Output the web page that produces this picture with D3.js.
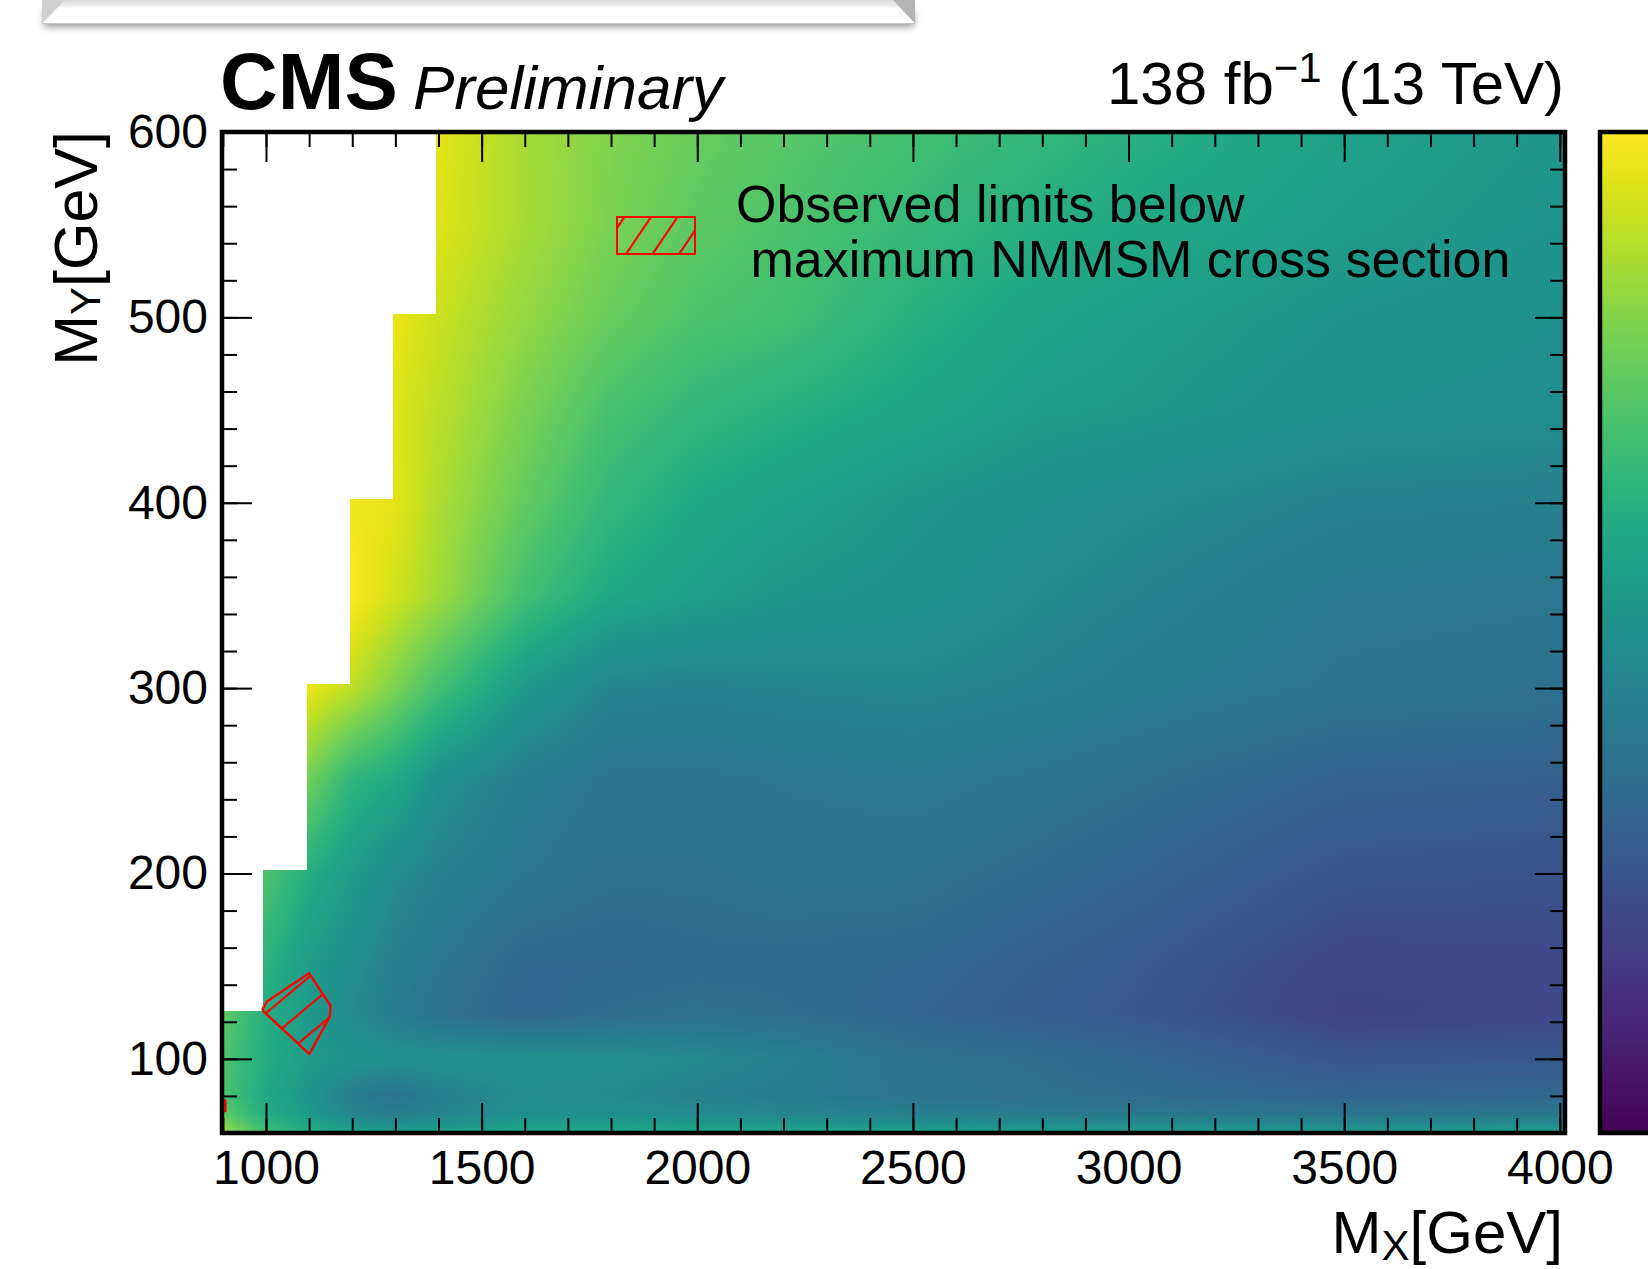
<!DOCTYPE html>
<html>
<head>
<meta charset="utf-8">
<script src="https://cdn.jsdelivr.net/npm/d3@7"></script>
<style>
  body { margin: 0; background: #fff; }
  svg text { font-family: "Liberation Sans", Arial, Helvetica, sans-serif; }
</style>
</head>
<body>
<svg id="chart" width="1648" height="1269"></svg>
<script>
// mass points of the limit scan (GeV)
var mxPoints = [900, 1000, 1100, 1200, 1300, 1400, 1600, 1800, 2000, 2200, 2500, 2800, 3000, 3500, 4000];
var myPoints = [60, 70, 80, 100, 125, 150, 200, 250, 300, 350, 400, 450, 500, 550, 600];
// colour value (fraction of the palette range) at each (MY row, MX column)
var zRows = [
  [0.85, 0.70, 0.62, 0.58, 0.56, 0.57, 0.60, 0.60, 0.60, 0.60, 0.58, 0.56, 0.55, 0.55, 0.56],
  [0.76, 0.62, 0.54, 0.46, 0.42, 0.45, 0.50, 0.50, 0.48, 0.46, 0.43, 0.41, 0.40, 0.38, 0.40],
  [0.72, 0.60, 0.52, 0.42, 0.38, 0.43, 0.48, 0.47, 0.44, 0.42, 0.38, 0.36, 0.35, 0.32, 0.33],
  [0.72, 0.62, 0.55, 0.52, 0.50, 0.50, 0.50, 0.49, 0.47, 0.44, 0.37, 0.35, 0.33, 0.26, 0.27],
  [0.76, 0.62, 0.54, 0.47, 0.42, 0.37, 0.32, 0.35, 0.36, 0.35, 0.32, 0.29, 0.27, 0.20, 0.21],
  [0.74, 0.64, 0.55, 0.49, 0.43, 0.39, 0.33, 0.33, 0.34, 0.34, 0.33, 0.30, 0.28, 0.21, 0.22],
  [0.72, 0.72, 0.62, 0.55, 0.48, 0.44, 0.39, 0.36, 0.36, 0.37, 0.37, 0.34, 0.32, 0.26, 0.25],
  [0.80, 0.80, 0.78, 0.65, 0.60, 0.50, 0.42, 0.38, 0.38, 0.39, 0.40, 0.38, 0.36, 0.31, 0.30],
  [0.97, 0.97, 0.97, 0.90, 0.80, 0.70, 0.54, 0.45, 0.44, 0.45, 0.46, 0.44, 0.42, 0.38, 0.37],
  [1.00, 1.00, 1.00, 1.00, 0.93, 0.86, 0.70, 0.60, 0.56, 0.53, 0.51, 0.47, 0.45, 0.40, 0.39],
  [0.98, 0.98, 0.98, 0.98, 0.96, 0.88, 0.76, 0.66, 0.60, 0.57, 0.53, 0.50, 0.48, 0.44, 0.43],
  [0.97, 0.97, 0.97, 0.97, 0.95, 0.90, 0.80, 0.71, 0.66, 0.63, 0.59, 0.55, 0.54, 0.50, 0.49],
  [0.97, 0.97, 0.97, 0.97, 0.97, 0.92, 0.84, 0.77, 0.72, 0.70, 0.63, 0.58, 0.56, 0.52, 0.50],
  [0.97, 0.97, 0.97, 0.97, 0.97, 0.95, 0.87, 0.80, 0.75, 0.72, 0.67, 0.62, 0.60, 0.55, 0.52],
  [0.97, 0.97, 0.97, 0.97, 0.97, 0.96, 0.87, 0.81, 0.77, 0.74, 0.70, 0.66, 0.63, 0.57, 0.53]
];
// kinematic edge: columns start at these MX and are filled up to stepTopMY
var stepEdgesMX = [898, 994, 1094, 1194, 1294, 1394];
var stepTopMY   = [126, 202, 302, 402, 502, 600];
// observed-excluded region (hatched)
var obsContour = [[992, 126.7], [1001.6, 130.8], [1099.7, 146.2], [1150, 128.5], [1148, 122.7], [1100.4, 102.6], [995.4, 125.4]];
var obsContourEdge = [[893, 71.5], [906, 71.8], [906, 77.6], [893, 78]];
// ticks
var xMajorTicks = [1000, 1500, 2000, 2500, 3000, 3500, 4000];
var yMajorTicks = [100, 200, 300, 400, 500, 600];
var legendLines = ["Observed limits below", " maximum NMMSM cross section"];

var svg = d3.select("#chart");
var x = d3.scaleLinear().domain([898, 4012]).range([222, 1565]);
var y = d3.scaleLinear().domain([60, 600]).range([1133, 132]);
var color = d3.interpolateViridis;
var xMinorTicks = d3.range(900, 4001, 100);
var yMinorTicks = d3.range(60, 601, 20);

var defs = svg.append("defs");
defs.append("clipPath").attr("id", "plotClip").append("rect")
    .attr("x", x.range()[0]).attr("y", y.range()[1])
    .attr("width", x.range()[1] - x.range()[0]).attr("height", y.range()[0] - y.range()[1]);

function hatch(id, angle) {
  var p = defs.append("pattern").attr("id", id).attr("patternUnits", "userSpaceOnUse")
      .attr("width", 22).attr("height", 22)
      .attr("patternTransform", "rotate(" + angle + ")");
  p.append("line").attr("x1", 1).attr("y1", -2).attr("x2", 1).attr("y2", 24)
      .attr("stroke", "#f00").attr("stroke-width", 2.2);
}
hatch("hatchPlot", 50);
hatch("hatchLegend", 34);

var shadow = defs.append("filter").attr("id", "shadow").attr("x", "-5%").attr("y", "-50%").attr("width", "110%").attr("height", "250%");
shadow.append("feGaussianBlur").attr("stdDeviation", 3.5);

var topGrad = defs.append("linearGradient").attr("id", "topGrad").attr("x1", 0).attr("y1", 0).attr("x2", 0).attr("y2", 1);
topGrad.append("stop").attr("offset", "0%").attr("stop-color", "#d4d4d4");
topGrad.append("stop").attr("offset", "35%").attr("stop-color", "#f2f2f2");
topGrad.append("stop").attr("offset", "40%").attr("stop-color", "#ffffff");
topGrad.append("stop").attr("offset", "100%").attr("stop-color", "#ffffff");

// ---- grey box at the top (cut-off window edge)
svg.append("rect").attr("x", 44).attr("y", 10).attr("width", 870).attr("height", 17)
   .attr("fill", "#9a9a9a").attr("filter", "url(#shadow)");
svg.append("rect").attr("x", 42).attr("y", -2).attr("width", 873).attr("height", 25.5)
   .attr("fill", "url(#topGrad)");
svg.append("polygon").attr("points", "42,0 65,0 42,23.5").attr("fill", "#cfcfcf");
svg.append("polygon").attr("points", "893,0 915,0 915,23.5").attr("fill", "#b4b4b4");
svg.append("line").attr("x1", 42).attr("x2", 915).attr("y1", 23.5).attr("y2", 23.5)
   .attr("stroke", "#c4c4c4").attr("stroke-width", 1.2);

// ---- heat map (bilinear between the mass points, masked by the kinematic edge)
var x0 = x.range()[0], x1 = x.range()[1], y0 = y.range()[1], y1 = y.range()[0];
var W = x1 - x0, H = y1 - y0;
var canvas = document.createElement("canvas");
canvas.width = W; canvas.height = H;
var ctx = canvas.getContext("2d");
var img = ctx.createImageData(W, H);
var lut = d3.range(256).map(function(i) { return d3.rgb(color(i / 255)); });

function cellOf(arr, v) {
  var i = d3.bisectRight(arr, v) - 1;
  if (i < 0) i = 0;
  if (i > arr.length - 2) i = arr.length - 2;
  var t = (v - arr[i]) / (arr[i + 1] - arr[i]);
  return [i, Math.max(0, Math.min(1, t))];
}
var colInfo = [];
for (var px = 0; px < W; px++) {
  var xd = x.invert(x0 + px + 0.5);
  var c = cellOf(mxPoints, xd);
  var s = d3.bisectRight(stepEdgesMX, xd) - 1;
  colInfo.push({ i: c[0], t: c[1], top: stepTopMY[Math.max(0, s)] });
}
for (var py = 0; py < H; py++) {
  var yd = y.invert(y0 + py + 0.5);
  var r = cellOf(myPoints, yd), j = r[0], ty = r[1];
  var rowA = zRows[j], rowB = zRows[j + 1];
  for (var px2 = 0; px2 < W; px2++) {
    var ci = colInfo[px2], k = (py * W + px2) * 4;
    if (yd > ci.top) {
      img.data[k] = 255; img.data[k + 1] = 255; img.data[k + 2] = 255; img.data[k + 3] = 255;
      continue;
    }
    var i = ci.i, tx = ci.t;
    var za = rowA[i] * (1 - tx) + rowA[i + 1] * tx;
    var zb = rowB[i] * (1 - tx) + rowB[i + 1] * tx;
    var z = za * (1 - ty) + zb * ty;
    var col = lut[Math.round(Math.max(0, Math.min(1, z)) * 255)];
    img.data[k] = col.r; img.data[k + 1] = col.g; img.data[k + 2] = col.b; img.data[k + 3] = 255;
  }
}
ctx.putImageData(img, 0, 0);
svg.append("image").attr("x", x0).attr("y", y0).attr("width", W).attr("height", H)
   .attr("preserveAspectRatio", "none").attr("href", canvas.toDataURL());

// ---- observed exclusion contours
var line = d3.line().x(function(d) { return x(d[0]); }).y(function(d) { return y(d[1]); })
    .curve(d3.curveLinearClosed);
var contours = svg.append("g").attr("clip-path", "url(#plotClip)");
[obsContour, obsContourEdge].forEach(function(poly) {
  contours.append("path").attr("d", line(poly))
      .attr("fill", "url(#hatchPlot)").attr("stroke", "#f00").attr("stroke-width", 2.4)
      .attr("stroke-linejoin", "round");
});

// ---- axes (ROOT style, ticks on all four sides pointing inwards)
function drawAxis(axis, tx, ty) {
  var g = svg.append("g").attr("transform", "translate(" + tx + "," + ty + ")").call(axis)
      .attr("font-family", "'Liberation Sans', Arial, sans-serif").attr("font-size", 48);
  g.select(".domain").remove();
  g.selectAll(".tick line").attr("stroke", "#000").attr("stroke-width", 2);
  g.selectAll(".tick text").attr("fill", "#000");
  return g;
}
drawAxis(d3.axisBottom(x).tickValues(xMinorTicks).tickSize(-15).tickFormat(""), 0, y1);
drawAxis(d3.axisBottom(x).tickValues(xMajorTicks).tickSize(-30).tickPadding(17).tickFormat(d3.format("d")), 0, y1);
drawAxis(d3.axisTop(x).tickValues(xMinorTicks).tickSize(-15).tickFormat(""), 0, y0);
drawAxis(d3.axisTop(x).tickValues(xMajorTicks).tickSize(-30).tickFormat(""), 0, y0);
drawAxis(d3.axisLeft(y).tickValues(yMinorTicks).tickSize(-15).tickFormat(""), x0, 0);
drawAxis(d3.axisLeft(y).tickValues(yMajorTicks).tickSize(-30).tickPadding(14).tickFormat(d3.format("d")), x0, 0);
drawAxis(d3.axisRight(y).tickValues(yMinorTicks).tickSize(-15).tickFormat(""), x1, 0);
drawAxis(d3.axisRight(y).tickValues(yMajorTicks).tickSize(-30).tickFormat(""), x1, 0);

svg.append("rect").attr("x", x0).attr("y", y0).attr("width", W).attr("height", H)
   .attr("fill", "none").attr("stroke", "#000").attr("stroke-width", 4.5);

// ---- colour bar (cut at the page edge)
var cbGrad = defs.append("linearGradient").attr("id", "cbGrad").attr("x1", 0).attr("y1", 1).attr("x2", 0).attr("y2", 0);
d3.range(0, 1.0001, 0.05).forEach(function(t) {
  cbGrad.append("stop").attr("offset", (t * 100) + "%").attr("stop-color", color(t));
});
svg.append("rect").attr("x", 1600).attr("y", y0).attr("width", 80).attr("height", H)
   .attr("fill", "url(#cbGrad)").attr("stroke", "#000").attr("stroke-width", 4.5);

// ---- legend
svg.append("rect").attr("x", 617).attr("y", 217).attr("width", 78).attr("height", 37)
   .attr("fill", "url(#hatchLegend)").attr("stroke", "#f00").attr("stroke-width", 2);
var leg = svg.append("text").attr("font-size", 52).attr("fill", "#000").style("white-space", "pre");
leg.selectAll("tspan").data(legendLines).enter().append("tspan")
   .attr("x", 736).attr("y", function(d, i) { return 222 + i * 55; })
   .text(function(d) { return d; });

// ---- titles
svg.append("text").attr("x", 220).attr("y", 109).attr("font-size", 80).attr("font-weight", "bold")
   .text("CMS");
svg.append("text").attr("x", 413).attr("y", 109).attr("font-size", 62).attr("font-style", "italic")
   .text("Preliminary");
var lumi = svg.append("text").attr("x", 1564).attr("y", 104).attr("font-size", 60).attr("text-anchor", "end");
lumi.append("tspan").text("138 fb");
lumi.append("tspan").attr("font-size", 42).attr("dy", -22).text("\u22121");
lumi.append("tspan").attr("dy", 22).text(" (13 TeV)");

var xl = svg.append("text").attr("x", 1563).attr("y", 1253).attr("font-size", 60).attr("text-anchor", "end");
xl.append("tspan").text("M");
xl.append("tspan").attr("font-size", 42).attr("dy", 7).text("X");
xl.append("tspan").attr("dy", -7).text("[GeV]");

var yl = svg.append("text").attr("transform", "translate(97,131) rotate(-90)").attr("font-size", 61)
   .attr("text-anchor", "end");
yl.append("tspan").text("M");
yl.append("tspan").attr("font-size", 42).attr("dy", 3).text("Y");
yl.append("tspan").attr("dy", -3).text("[GeV]");
</script>
</body>
</html>
